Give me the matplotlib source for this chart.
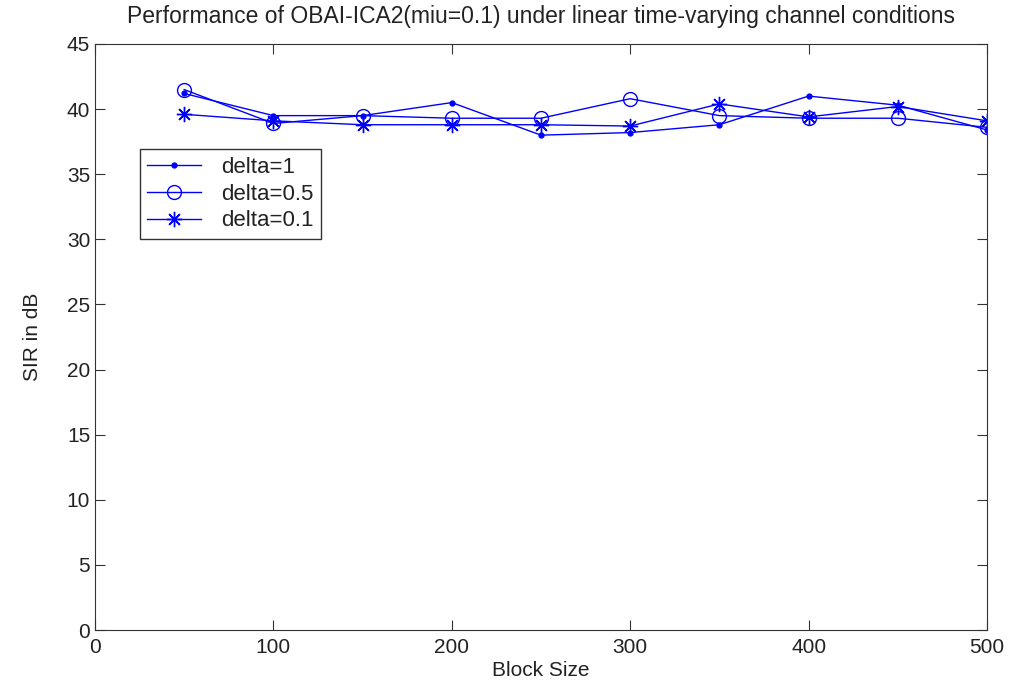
import matplotlib
matplotlib.use('Agg')
import matplotlib.pyplot as plt

plt.rcParams['font.family'] = ['Liberation Sans', 'DejaVu Sans']

# Data
block_size = [50, 100, 150, 200, 250, 300, 350, 400, 450, 500]
sir_delta_1 = [41.2, 39.5, 39.5, 40.5, 38.0, 38.2, 38.8, 41.0, 40.3, 38.4]
sir_delta_05 = [41.5, 38.9, 39.5, 39.3, 39.3, 40.8, 39.5, 39.3, 39.3, 38.6]
sir_delta_01 = [39.6, 39.1, 38.8, 38.8, 38.8, 38.7, 40.4, 39.4, 40.2, 39.1]

text_color = '#222222'

fig = plt.figure(figsize=(10.21, 6.92), dpi=100)
ax = fig.add_axes([95/1021, 1 - 630/692, (987 - 95)/1021, (630 - 44)/692])

ax.plot(block_size, sir_delta_1, color='blue', marker='.', markersize=7, linewidth=1, label='delta=1')
ax.plot(block_size, sir_delta_05, color='blue', marker='o', markersize=10, markerfacecolor='none',
        linewidth=1, label='delta=0.5')
ax.plot(block_size, sir_delta_01, color='blue', marker=(8, 2, 0), markersize=11,
        linewidth=1, label='delta=0.1')

ax.set_xlim(0, 500)
ax.set_ylim(0, 45)
ax.set_xticks(range(0, 501, 100))
ax.set_yticks(range(0, 46, 5))
for s in ax.spines.values():
    s.set_color('#333333')
ax.tick_params(direction='in', top=True, right=True, labelsize=15, length=7,
               colors='#333333', labelcolor=text_color)
ax.tick_params(axis='x', pad=6)
ax.set_xlabel('Block Size', fontsize=15, labelpad=3, color=text_color)
ax.set_ylabel('SIR in dB', fontsize=15, labelpad=18, color=text_color)
ax.set_title('Performance of OBAI-ICA2(miu=0.1) under linear time-varying channel conditions',
             fontsize=16.5, pad=15, color=text_color)

leg = ax.legend(loc='upper left', bbox_to_anchor=(0.05, 0.82), fontsize=16, fancybox=False,
                framealpha=1, edgecolor='#333333', borderaxespad=0, handlelength=2.4,
                handletextpad=0.9, labelspacing=0.25, borderpad=0.35)
leg.get_frame().set_linewidth(1)
for t in leg.get_texts():
    t.set_color(text_color)

fig.savefig('out.png', dpi=100)
